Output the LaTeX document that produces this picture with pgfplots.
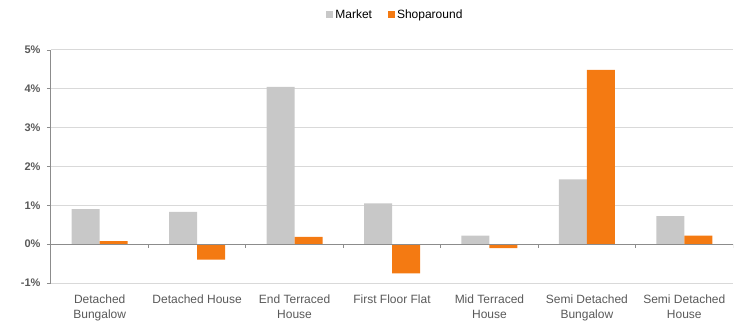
\documentclass[border=0pt]{standalone}
\usepackage{pgfplots}
\pgfplotsset{compat=1.18}
\usepackage{fontspec}
\setmainfont{Liberation Sans}
\definecolor{mkt}{HTML}{C8C8C8}
\definecolor{shop}{HTML}{F47A12}
\definecolor{txt}{HTML}{595959}
\definecolor{grd}{HTML}{D9D9D9}
\definecolor{axc}{HTML}{8C8C8C}
\begin{document}
\begin{tikzpicture}
\begin{axis}[
  at={(0,0)}, anchor=south west,
  scale only axis, width=682bp, height=233bp,
  ybar=0pt, bar width=28bp,
  xmin=-0.5, xmax=6.5, ymin=-1, ymax=5,
  axis y line*=left, axis x line*=bottom,
  x axis line style={draw=grd, line width=1bp},
  y axis line style={draw=axc, line width=1bp},
  xtick={0,...,6},
  xticklabels={{Detached\\Bungalow},{Detached House},{End Terraced\\House},{First Floor Flat},{Mid Terraced\\House},{Semi Detached\\Bungalow},{Semi Detached\\House}},
  xticklabel style={align=center, font=\fontsize{12bp}{15bp}\selectfont, text=txt, anchor=north, yshift=-4bp},
  major x tick style={draw=none},
  ytick={-1,0,1,2,3,4,5},
  yticklabel={\pgfmathprintnumber{\tick}\%},
  /pgf/number format/assume math mode=true,
  yticklabel style={font=\bfseries\fontsize{11bp}{13bp}\selectfont, text=txt, xshift=-3bp},
  ytick pos=left, tick align=outside, major tick length=4bp,
  major y tick style={draw=axc, line width=0.8bp},
  ymajorgrids, grid style={draw=grd, line width=1bp},
  legend style={at={(0.505,1)}, anchor=center, yshift=35bp, draw=none, fill=none,
    font=\fontsize{12bp}{14bp}\selectfont, legend columns=2,
    /tikz/every even column/.append style={column sep=14bp}},
  legend image code/.code={\fill[#1] (0bp,-3.5bp) rectangle (7bp,3.5bp);},
]
\addplot[fill=mkt, draw=none] coordinates {(0,0.90) (1,0.83) (2,4.05) (3,1.05) (4,0.22) (5,1.67) (6,0.72)};
\addplot[fill=shop, draw=none] coordinates {(0,0.08) (1,-0.40) (2,0.19) (3,-0.75) (4,-0.10) (5,4.49) (6,0.22)};
\legend{Market, Shoparound}
\draw[axc, line width=1bp] (axis cs:-0.5,0) -- (axis cs:6.5,0);
\pgfplotsinvokeforeach{0.5,1.5,2.5,3.5,4.5,5.5,6.5}{\draw[axc, line width=0.8bp] (axis cs:#1,0) -- ++(0bp,-4bp);}
\end{axis}
\pgfresetboundingbox
\path (-51bp,-40bp) rectangle (686bp,283bp);
\end{tikzpicture}
\end{document}
